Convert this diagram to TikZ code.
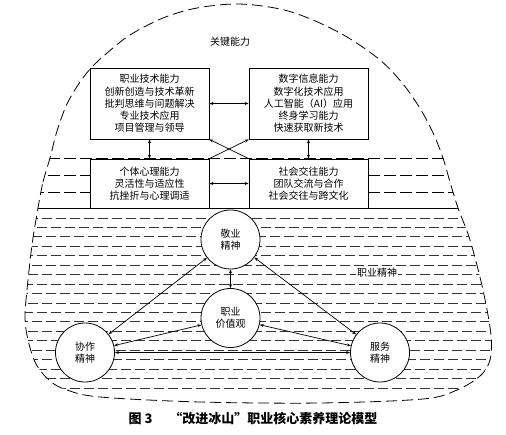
\documentclass[tikz,border=0pt]{standalone}
\usepackage{fontspec}
\newfontfamily\cjk{Noto Sans CJK SC}
\usetikzlibrary{arrows.meta}
\begin{document}
\begin{tikzpicture}[x=1pt,y=-1pt,
  box/.style={draw, line width=0.8pt, fill=white, minimum width=119pt, align=center, inner sep=0pt, font=\cjk\fontsize{10}{12.2}\selectfont},
  circ/.style={draw, circle, line width=0.8pt, fill=white, minimum size=59pt, inner sep=0pt, align=center, font=\cjk\fontsize{10}{12}\selectfont},
  lbl/.style={font=\cjk\fontsize{10}{12}\selectfont},
  dbl/.style={line width=0.7pt, {Stealth[length=4pt,width=3pt]}-{Stealth[length=4pt,width=3pt]}},
  sgl/.style={line width=0.7pt, -{Stealth[length=4pt,width=3pt]}},
  outl/.style={line width=0.8pt, dash pattern=on 11pt off 5pt},
  water/.style={line width=0.8pt, dash pattern=on 12pt off 4pt},
  hatch/.style={line width=0.8pt, black!80, dash pattern=on 10pt off 4pt},
]
\useasboundingbox (0,0) rectangle (506,435);
\def\outlinepath{plot[smooth cycle, tension=0.55] coordinates {(38,208) (43,182) (50,158) (57,131) (67,104) (80,82) (92,67) (107,53) (130,35) (163,18) (197,8) (238,4) (280,9) (313,20) (347,37) (380,60) (403,84) (421,110) (434,135) (443,158) (450,182) (458,208) (470,240) (483,290) (491,335) (490,360) (480,376) (457,390) (423,399) (320,403) (200,402) (100,397) (67,390) (50,381) (36,364) (28,340) (25,317) (27,290) (32,245)}}
\begin{scope}
  \clip \outlinepath;
  \draw[water] (0,158) -- (506,158);
  \draw[water] (0,175.5) -- (90,175.5);
  \draw[water] (368,175.5) -- (506,175.5);
  \draw[water] (0,192) -- (90,192);
  \draw[water] (368,192) -- (506,192);
  \draw[line width=0.8pt] (0,208) -- (506,208);
  \foreach \i in {0,...,18} {
    \pgfmathsetmacro{\yy}{218+\i*9.44}
    \pgfmathsetmacro{\ph}{mod(\i,3)*5}
    \draw[hatch, dash phase=\ph pt] (0,\yy) -- (506,\yy);
  }
\end{scope}
\draw[outl] \outlinepath;

\node[lbl] (key) at (230,42) {关键能力};

\node[box, minimum height=71pt] (tl) at (149.5,103.5) {职业技术能力\\创新创造与技术革新\\批判思维与问题解决\\专业技术应用\\项目管理与领导};
\node[box, minimum height=71pt] (tr) at (308.5,103.5) {数字信息能力\\数字化技术应用\\人工智能（AI）应用\\终身学习能力\\快速获取新技术};
\node[box, minimum height=49pt] (bl) at (149.5,183.5) {个体心理能力\\灵活性与适应性\\抗挫折与心理调适};
\node[box, minimum height=49pt] (br) at (308.5,183.5) {社会交往能力\\团队交流与合作\\社会交往与跨文化};

\draw[dbl] (tl.east) -- (tr.west);
\draw[dbl] (bl.east) -- (br.west);
\draw[dbl] (tl.south) -- (bl.north);
\draw[dbl] (tr.south) -- (br.north);
\draw[sgl] (br.north west) -- (tl.south east);
\draw[sgl] (bl.north east) -- (tr.south west);

\node[lbl, fill=white, inner sep=1pt] (zyjs) at (377,273) {职业精神};

\node[circ] (jy) at (230.5,239.5) {敬业\\精神};
\node[circ] (jz) at (230.5,318) {职业\\价值观};
\node[circ] (xz) at (85,352.5) {协作\\精神};
\node[circ] (fw) at (380,352.5) {服务\\精神};

\draw[dbl] (jy) -- (jz);
\draw[dbl] (jy) -- (xz);
\draw[dbl] (jy) -- (fw);
\draw[dbl] (jz) -- (xz);
\draw[dbl] (jz) -- (fw);
\draw[dbl] (xz) -- (fw);

\node[font=\cjk\bfseries\fontsize{13}{15}\selectfont] (cap) at (253,419) {图 3\hspace{1.3em}“改进冰山”职业核心素养理论模型};
\end{tikzpicture}
\end{document}
